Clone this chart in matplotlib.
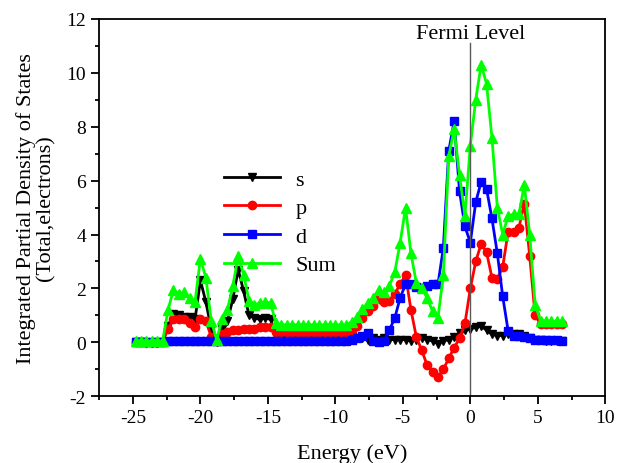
import matplotlib
matplotlib.use("Agg")
import matplotlib.pyplot as plt
from matplotlib.ticker import MultipleLocator

plt.rcParams['font.family'] = ['Liberation Serif', 'DejaVu Serif']
plt.rcParams['axes.unicode_minus'] = False

# energie (eV)
E = [-24.8, -24.4, -24.0, -23.6, -23.2, -22.8, -22.4, -22.0, -21.6, -21.2,
     -20.8, -20.4, -20.0, -19.6, -19.2, -18.8, -18.4, -18.0, -17.6, -17.2,
     -16.8, -16.4, -16.0, -15.6, -15.2, -14.8, -14.4, -14.0, -13.6, -13.2,
     -12.8, -12.4, -12.0, -11.6, -11.2, -10.8, -10.4, -10.0, -9.6, -9.2,
     -8.8, -8.4, -8.0, -7.6, -7.2, -6.8, -6.4, -6.0, -5.6, -5.2,
     -4.8, -4.4, -4.0, -3.6, -3.2, -2.8, -2.4, -2.0, -1.6, -1.2,
     -0.8, -0.4, 0.0, 0.4, 0.8, 1.2, 1.6, 2.0, 2.4, 2.8,
     3.2, 3.6, 4.0, 4.4, 4.8, 5.2, 5.6, 6.0, 6.4, 6.8]

s_dos = [0.0, 0.0, -0.03, -0.03, -0.03, 0.0, 0.6, 1.05, 1.0, 0.95,
         0.95, 0.85, 2.3, 1.5, 0.5, 0.0, 0.5, 0.8, 1.6, 2.7,
         1.9, 1.0, 0.9, 0.85, 0.9, 0.85, 0.25, 0.22, 0.22, 0.22,
         0.22, 0.22, 0.22, 0.22, 0.22, 0.22, 0.22, 0.22, 0.22, 0.22,
         0.2, 0.15, 0.15, 0.1, 0.15, 0.1, 0.15, 0.1, 0.1, 0.1,
         0.1, 0.05, 0.1, 0.15, 0.1, 0.05, -0.05, 0.05, 0.1, 0.2,
         0.35, 0.45, 0.5, 0.55, 0.6, 0.45, 0.3, 0.25, 0.25, 0.3,
         0.3, 0.3, 0.25, 0.15, 0.1, 0.08, 0.05, 0.05, 0.05, 0.05]

p_dos = [0.02, 0.02, 0.02, 0.02, 0.02, 0.02, 0.5, 0.85, 0.85, 0.85,
         0.7, 0.55, 0.85, 0.8, 0.2, 0.05, 0.3, 0.4, 0.45, 0.45,
         0.5, 0.5, 0.5, 0.55, 0.55, 0.55, 0.4, 0.38, 0.38, 0.38,
         0.38, 0.38, 0.38, 0.38, 0.38, 0.38, 0.38, 0.38, 0.38, 0.38,
         0.45, 0.6, 0.9, 1.15, 1.35, 1.6, 1.5, 1.55, 1.8, 2.15,
         2.5, 1.2, 0.2, -0.3, -0.85, -1.1, -1.3, -1.0, -0.6, -0.2,
         0.15, 0.7, 2.0, 3.0, 3.65, 3.35, 2.4, 2.35, 2.8, 4.1,
         4.1, 4.25, 5.15, 3.2, 1.0, 0.68, 0.68, 0.68, 0.68, 0.68]

d_dos = [0.0, 0.0, 0.0, 0.0, 0.0, 0.0, 0.05, 0.05, 0.05, 0.05,
         0.05, 0.05, 0.05, 0.05, 0.05, 0.05, 0.05, 0.05, 0.05, 0.05,
         0.05, 0.05, 0.05, 0.05, 0.05, 0.05, 0.03, 0.03, 0.03, 0.03,
         0.03, 0.03, 0.03, 0.03, 0.03, 0.03, 0.03, 0.03, 0.03, 0.03,
         0.1, 0.17, 0.25, 0.35, 0.05, 0.0, 0.05, 0.45, 0.9, 1.65,
         2.15, 2.15, 2.05, 2.0, 2.1, 2.15, 2.15, 3.5, 7.1, 8.2,
         5.6, 4.3, 3.7, 5.2, 5.95, 5.7, 4.6, 3.3, 1.7, 0.43,
         0.25, 0.22, 0.2, 0.15, 0.1, 0.1, 0.07, 0.07, 0.07, 0.05]

sum_dos = [0.05, 0.05, 0.05, 0.05, 0.05, 0.05, 1.2, 1.95, 1.8, 1.85,
           1.65, 1.5, 3.1, 2.4, 0.8, 0.1, 0.85, 1.2, 2.1, 3.2,
           2.5, 1.55, 1.4, 1.45, 1.5, 1.45, 0.7, 0.65, 0.65, 0.65,
           0.65, 0.65, 0.65, 0.65, 0.65, 0.65, 0.65, 0.65, 0.65, 0.65,
           0.75, 0.95, 1.25, 1.45, 1.65, 1.95, 1.85, 2.1, 2.6, 3.7,
           5.0, 3.3, 2.2, 2.0, 1.65, 1.15, 0.9, 2.5, 6.9, 7.9,
           6.2, 4.7, 7.3, 9.0, 10.3, 9.6, 7.6, 5.0, 4.0, 4.7,
           4.75, 4.75, 5.85, 4.0, 1.4, 0.8, 0.78, 0.78, 0.78, 0.78]

fig = plt.figure(figsize=(6.24, 4.64), dpi=100)
ax = fig.add_axes([0.159, 0.144, 0.811, 0.813])

ax.plot(E, s_dos, "v-", color="black", lw=2, ms=6, label="s")
ax.plot(E, p_dos, "o-", color="red", lw=2, ms=6, label="p")
ax.plot(E, d_dos, "s-", color="blue", lw=2, ms=5.5, label="d")
ax.plot(E, sum_dos, "^-", color="#00ff00", lw=2, ms=6.5, label="Sum")

# niveau de Fermi
ax.plot([0, 0], [-2, 11.1], color="0.35", lw=1)
ax.text(0, 11.45, "Fermi Level", ha="center", va="center", fontsize=16)

ax.set_xlim(-27.5, 10)
ax.set_ylim(-2, 12)
ax.xaxis.set_major_locator(MultipleLocator(5))
ax.xaxis.set_minor_locator(MultipleLocator(2.5))
ax.yaxis.set_major_locator(MultipleLocator(2))
ax.yaxis.set_minor_locator(MultipleLocator(1))
ax.tick_params(which="both", direction="out", top=False, right=False, labelsize=14)
ax.tick_params(which="major", length=6, width=1.3)
ax.tick_params(which="minor", length=3, width=1.3)
for sp in ax.spines.values():
    sp.set_linewidth(1.3)

ax.set_xlabel("Energy (eV)", fontsize=16, labelpad=12)
ax.set_ylabel("Integrated Partial Density of States\n(Total,electrons)", fontsize=16,
              labelpad=8, linespacing=1.0)

ax.legend(loc="upper left", bbox_to_anchor=(0.208, 0.655), frameon=False,
          fontsize=16, handlelength=2.5, labelspacing=0.36, handletextpad=0.7)

fig.savefig("out.png", dpi=100)
